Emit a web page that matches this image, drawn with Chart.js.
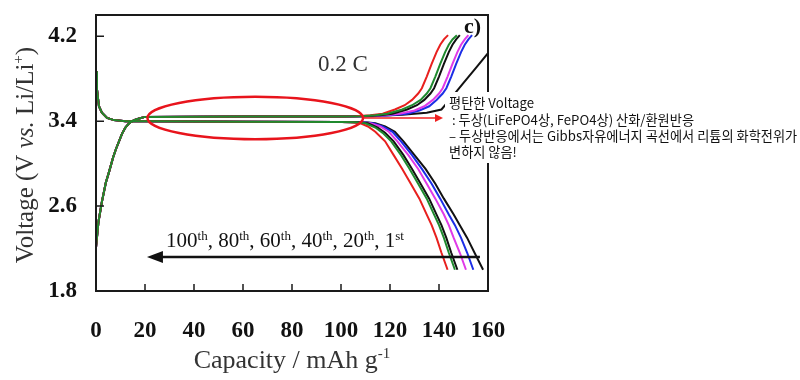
<!DOCTYPE html>
<html>
<head>
<meta charset="utf-8">
<script src="https://cdn.jsdelivr.net/npm/chart.js@4.4.1/dist/chart.umd.min.js"></script>
<style>
  html, body { margin: 0; padding: 0; background: #fff; }
</style>
</head>
<body>
<canvas id="lfpChart" width="800" height="380"></canvas>
<script>
// axis ticks
const xTicks = [0, 20, 40, 60, 80, 100, 120, 140, 160];
const yTicks = [1.8, 2.6, 3.4, 4.2];

// shared start of every cycle (capacity, voltage)
const chargeStart = [[0, 2.21], [1, 2.45], [2.4, 2.64], [4, 2.82], [5.3, 2.92], [7, 3.06], [8.2, 3.14],
  [10.6, 3.28], [12, 3.34], [13.5, 3.38], [15.5, 3.41], [17.6, 3.425], [20, 3.44], [60, 3.445], [100, 3.445]];
const dischargeStart = [[0, 3.87], [0.4, 3.7], [1.2, 3.54], [2.4, 3.48], [4.5, 3.43], [7.3, 3.41],
  [12, 3.40], [20, 3.398], [60, 3.395], [100, 3.393]];

// charge tails (rising to 4.2 V)
const charge100 = [[106, 3.447], [112, 3.455], [117, 3.47], [122, 3.51], [126, 3.55], [129, 3.60], [131.5, 3.66],
  [133, 3.71], [135, 3.82], [137, 3.94], [139, 4.05], [140.5, 4.12], [142, 4.17], [143.7, 4.21]];
const charge80 = [[108, 3.447], [114, 3.455], [119, 3.47], [125, 3.51], [129, 3.55], [132.5, 3.60], [135, 3.66],
  [136.5, 3.71], [138.5, 3.82], [140.5, 3.94], [142.5, 4.05], [144, 4.12], [145.5, 4.17], [147.3, 4.21]];
const charge60 = [[110, 3.447], [116, 3.455], [121, 3.47], [127, 3.51], [131, 3.55], [134, 3.60], [136.5, 3.66],
  [138, 3.71], [140, 3.82], [142, 3.94], [144, 4.05], [145.5, 4.12], [147, 4.17], [148.5, 4.21]];
const charge40 = [[112, 3.447], [118, 3.455], [124, 3.47], [130, 3.50], [134, 3.54], [137.5, 3.60], [140, 3.66],
  [141.5, 3.71], [143.5, 3.82], [145.5, 3.94], [147.5, 4.05], [149, 4.12], [150.5, 4.17], [152, 4.21]];
const charge20 = [[113, 3.447], [120, 3.455], [127, 3.47], [132, 3.50], [136, 3.54], [139, 3.60], [141.5, 3.66],
  [143, 3.71], [145, 3.82], [147, 3.94], [149, 4.05], [150.5, 4.12], [152, 4.17], [153.5, 4.21]];
const charge1 = [[115, 3.45], [125, 3.46], [135, 3.48], [141, 3.51], [145, 3.62], [150, 3.76], [155, 3.90], [160, 4.04]];

// discharge tails (falling to 2.0 V)
const discharge100 = [[104, 3.39], [108, 3.38], [111, 3.35], [114, 3.30], [118, 3.21], [121.5, 3.08], [125, 2.95],
  [128.5, 2.81], [132, 2.67], [135, 2.52], [137, 2.42], [139, 2.30], [141, 2.16], [143.5, 2.0]];
const discharge80 = [[106, 3.39], [110, 3.38], [114, 3.34], [117, 3.29], [120.5, 3.21], [124.5, 3.08], [128, 2.95],
  [131.5, 2.81], [135, 2.67], [138, 2.52], [140, 2.42], [142, 2.30], [144, 2.16], [146.5, 2.0]];
const discharge60 = [[107, 3.39], [111, 3.38], [115, 3.34], [118, 3.29], [121.5, 3.21], [125.5, 3.08], [129, 2.95],
  [132.5, 2.81], [136, 2.67], [139, 2.52], [141, 2.42], [143, 2.30], [145, 2.16], [147.5, 2.0]];
const discharge40 = [[108, 3.39], [112, 3.38], [116, 3.35], [119.5, 3.30], [123, 3.21], [127.5, 3.08], [131.5, 2.95],
  [135, 2.81], [138.5, 2.67], [142, 2.52], [144, 2.42], [146, 2.30], [148.5, 2.16], [151, 2.0]];
const discharge20 = [[109, 3.39], [113, 3.38], [117, 3.35], [121, 3.30], [124.5, 3.21], [129, 3.08], [133, 2.95],
  [137, 2.81], [140.5, 2.67], [144, 2.52], [146.5, 2.42], [149, 2.30], [151.5, 2.16], [154, 2.0]];
const discharge1 = [[110, 3.39], [114, 3.38], [118, 3.35], [122, 3.30], [125.5, 3.21], [130, 3.08], [134.5, 2.95],
  [138.5, 2.81], [142, 2.67], [146, 2.52], [148.5, 2.42], [151.5, 2.30], [154.5, 2.16], [158, 2.0]];

// cycles, drawn with the first one on top
const cycleNames = ["80th", "100th", "60th", "40th", "20th", "1st"];
const cycleColors = ["#1f8a2e", "#e8201e", "#111111", "#e03ae8", "#1c2ee6", "#111111"];
const chargeTails = [charge80, charge100, charge60, charge40, charge20, charge1];
const dischargeTails = [discharge80, discharge100, discharge60, discharge40, discharge20, discharge1];

const serif = "'Liberation Serif', 'Times New Roman', serif";
const korean = "'Noto Sans CJK KR', 'Noto Sans', sans-serif";

const toPoints = (arr) => arr.map(([x, y]) => ({ x: x, y: y }));

const datasets = [];
cycleNames.forEach((name, i) => {
  datasets.push({
    label: name + " charge",
    data: toPoints(chargeStart.concat(chargeTails[i])),
    borderColor: cycleColors[i],
    borderWidth: 2,
  });
  datasets.push({
    label: name + " discharge",
    data: toPoints(dischargeStart.concat(dischargeTails[i])),
    borderColor: cycleColors[i],
    borderWidth: 2,
  });
});

// draws runs of text in different fonts side by side
function drawRuns(ctx, runs, x, y) {
  let cx = x;
  runs.forEach(([text, font, dy]) => {
    ctx.font = font;
    ctx.fillText(text, cx, y + dy);
    cx += ctx.measureText(text).width;
  });
  return cx - x;
}
function runsWidth(ctx, runs) {
  let w = 0;
  runs.forEach(([text, font]) => { ctx.font = font; w += ctx.measureText(text).width; });
  return w;
}

// keep the plot box where the figure has it
function fixBox(scale, w, h) {
  if (w) scale.width = w;
  if (h) scale.height = h;
  scale.paddingTop = 0;
  scale.paddingBottom = 0;
  scale.paddingLeft = 0;
  scale.paddingRight = 0;
}

// frame, inner ticks, titles and notes
const decorations = {
  id: "decorations",
  afterDraw(chart) {
    const { ctx, chartArea: a, scales: { x, y } } = chart;
    ctx.save();

    // frame
    ctx.strokeStyle = "#1a1a1a";
    ctx.lineWidth = 2;
    ctx.strokeRect(a.left, a.top, a.right - a.left, a.bottom - a.top);

    // inward ticks
    ctx.lineWidth = 1.5;
    ctx.beginPath();
    xTicks.slice(1, -1).forEach((v) => {
      const px = x.getPixelForValue(v);
      ctx.moveTo(px, a.bottom);
      ctx.lineTo(px, a.bottom - 7);
    });
    yTicks.slice(1).forEach((v) => {
      const py = y.getPixelForValue(v);
      ctx.moveTo(a.left, py);
      ctx.lineTo(a.left + 8, py);
    });
    ctx.stroke();

    // axis titles
    ctx.fillStyle = "#333";
    ctx.textBaseline = "alphabetic";
    const xRuns = [["Capacity / mAh g", "26px " + serif, 0], ["-1", "15px " + serif, -10]];
    const xw = runsWidth(ctx, xRuns);
    drawRuns(ctx, xRuns, (a.left + a.right) / 2 - xw / 2, 368);

    const yRuns = [["Voltage (V ", "25px " + serif, 0], ["vs.", "italic 25px " + serif, 0],
      [" Li/Li", "25px " + serif, 0], ["+", "15px " + serif, -10], [")", "25px " + serif, 0]];
    const yw = runsWidth(ctx, yRuns);
    ctx.save();
    ctx.translate(33, (a.top + a.bottom) / 2 + 2);
    ctx.rotate(-Math.PI / 2);
    drawRuns(ctx, yRuns, -yw / 2, 0);
    ctx.restore();

    // panel letter and rate
    ctx.fillStyle = "#111";
    ctx.font = "bold 22px " + serif;
    ctx.fillText("c)", 464, 33);
    ctx.fillStyle = "#333";
    ctx.font = "23px " + serif;
    ctx.fillText("0.2 C", x.getPixelForValue(90.6), y.getPixelForValue(3.87));

    // cycle order arrow
    const ay = y.getPixelForValue(2.12);
    const ax0 = x.getPixelForValue(20.8);
    const ax1 = x.getPixelForValue(156.7);
    ctx.strokeStyle = "#111";
    ctx.fillStyle = "#111";
    ctx.lineWidth = 2.5;
    ctx.beginPath();
    ctx.moveTo(ax0 + 10, ay);
    ctx.lineTo(ax1, ay);
    ctx.stroke();
    ctx.beginPath();
    ctx.moveTo(ax0, ay);
    ctx.lineTo(ax0 + 16, ay - 6);
    ctx.lineTo(ax0 + 16, ay + 6);
    ctx.closePath();
    ctx.fill();

    const base = "21px " + serif, sup = "13px " + serif;
    drawRuns(ctx, [["100", base, 0], ["th", sup, -7], [", 80", base, 0], ["th", sup, -7],
      [", 60", base, 0], ["th", sup, -7], [", 40", base, 0], ["th", sup, -7],
      [", 20", base, 0], ["th", sup, -7], [", 1", base, 0], ["st", sup, -7]],
      x.getPixelForValue(28.6), y.getPixelForValue(2.215));

    // plateau ellipse
    const ex = x.getPixelForValue(65), ey = y.getPixelForValue(3.43);
    const rx = x.getPixelForValue(109) - ex;
    const ry = y.getPixelForValue(3.23) - ey;
    ctx.strokeStyle = "#e8141c";
    ctx.lineWidth = 2.5;
    ctx.beginPath();
    ctx.ellipse(ex, ey, rx, ry, 0, 0, Math.PI * 2);
    ctx.stroke();

    // note box
    ctx.fillStyle = "#fff";
    ctx.fillRect(445, 92, 355, 71);
    ctx.strokeStyle = "#f02020";
    ctx.fillStyle = "#f02020";
    ctx.lineWidth = 1.5;
    ctx.beginPath();
    ctx.moveTo(ex + rx, ey);
    ctx.lineTo(436, ey);
    ctx.stroke();
    ctx.beginPath();
    ctx.moveTo(443, ey);
    ctx.lineTo(435, ey - 4);
    ctx.lineTo(435, ey + 4);
    ctx.closePath();
    ctx.fill();

    ctx.fillStyle = "#111";
    ctx.font = "13.2px " + korean;
    ctx.fillText("평탄한 Voltage", 449, 108);
    ctx.fillText(" : 두상(LiFePO4상, FePO4상) 산화/환원반응", 449, 124.5);
    ctx.fillText("– 두상반응에서는 Gibbs자유에너지 곡선에서 리튬의 화학전위가", 449, 141);
    ctx.fillText("변하지 않음!", 449, 157);

    ctx.restore();
  },
};

new Chart(document.getElementById("lfpChart").getContext("2d"), {
  type: "line",
  data: { datasets: datasets },
  options: {
    responsive: false,
    animation: false,
    events: [],
    layout: { padding: { left: 0, right: 312, top: 15, bottom: 0 } },
    elements: {
      point: { radius: 0 },
      line: { tension: 0, fill: false },
    },
    plugins: {
      legend: { display: false },
      tooltip: { enabled: false },
    },
    scales: {
      x: {
        type: "linear",
        min: 0,
        max: 160,
        afterBuildTicks: (axis) => { axis.ticks = xTicks.map((v) => ({ value: v })); },
        afterFit: (scale) => fixBox(scale, 0, 89),
        grid: { display: false, drawTicks: false },
        border: { display: false },
        ticks: {
          padding: 26,
          maxRotation: 0,
          color: "#111",
          font: { family: serif, size: 23, weight: "bold" },
        },
      },
      y: {
        type: "linear",
        min: 1.8,
        max: 4.4,
        afterBuildTicks: (axis) => { axis.ticks = yTicks.map((v) => ({ value: v })); },
        afterFit: (scale) => fixBox(scale, 96, 0),
        grid: { display: false, drawTicks: false },
        border: { display: false },
        ticks: {
          padding: 19,
          color: "#111",
          font: { family: serif, size: 23, weight: "bold" },
          callback: (v) => v.toFixed(1),
        },
      },
    },
  },
  plugins: [decorations],
});
</script>
</body>
</html>
